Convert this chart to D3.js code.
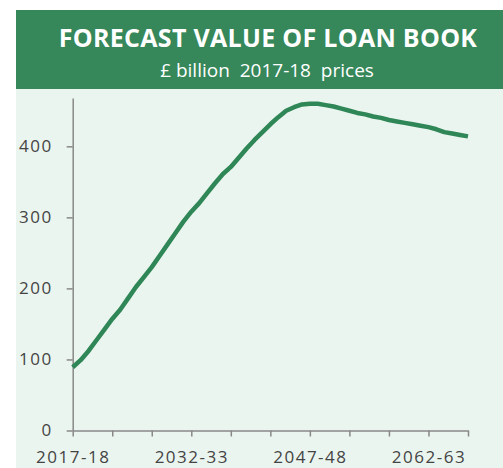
<!DOCTYPE html>
<html>
<head>
<meta charset="utf-8">
<script src="https://cdn.jsdelivr.net/npm/d3@7"></script>
<style>
  body { margin: 0; background: #fff; }
  svg text { font-family: "Open Sans", sans-serif; }
  .tick-label { fill: #444; font-size: 17px; letter-spacing: 1.5px; }
</style>
</head>
<body>
<svg id="chart" width="503" height="468"></svg>
<script>
// Forecast value of loan book, £ billion 2017-18 prices
const years = d3.range(2017, 2068).map(y => `${y}-${String((y + 1) % 100).padStart(2, '0')}`);
const loanBook = [
    89, 99, 112, 127, 142, 157, 170, 186, 202, 216,
    230, 246, 262, 278, 294, 308, 320, 334, 348, 361,
    371, 384, 397, 409, 420, 431, 441, 450, 455, 459,
    460, 460, 458, 456, 453, 450, 447, 445, 442, 440,
    437, 435, 433, 431, 429, 427, 424, 420, 418, 416,
    414
];
const yTicks = [0, 100, 200, 300, 400];
const xTickEvery = 5;    // small tick marks
const xLabelEvery = 15;  // labelled years

const svg = d3.select('#chart');

// header band + panel
svg.append('rect')
    .attr('x', 16).attr('y', 89).attr('width', 487).attr('height', 379)
    .attr('fill', '#ebf5ef');
svg.append('rect')
    .attr('x', 16).attr('y', 10).attr('width', 487).attr('height', 79)
    .attr('fill', '#36875a');

svg.append('text')
    .attr('x', 268).attr('y', 46.5)
    .attr('text-anchor', 'middle')
    .attr('fill', '#fff')
    .attr('font-size', 25)
    .attr('font-weight', 700)
    .attr('letter-spacing', 0.3)
    .text('FORECAST VALUE OF LOAN BOOK');
svg.append('text')
    .attr('x', 267).attr('y', 76.5)
    .attr('text-anchor', 'middle')
    .attr('fill', '#fff')
    .attr('font-size', 19)
    .attr('xml:space', 'preserve')
    .style('white-space', 'pre')
    .text('£ billion  2017-18  prices');

const x = d3.scaleLinear()
    .domain([0, years.length - 1])
    .range([72.7, 468]);
const y = d3.scaleLinear()
    .domain([0, 468])
    .range([430.5, 98]);

// y axis
const yAxis = svg.append('g')
    .attr('transform', `translate(${x(0)},0)`)
    .call(d3.axisLeft(y).tickValues(yTicks).tickSize(6).tickPadding(14).tickSizeOuter(0));
yAxis.select('.domain').attr('stroke', '#888').attr('stroke-width', 1.5);
yAxis.selectAll('.tick line').attr('stroke', '#888').attr('stroke-width', 1.5);
yAxis.selectAll('.tick text').attr('class', 'tick-label').attr('font-family', null);

// x axis
const xAxis = svg.append('g')
    .attr('transform', `translate(0,${y(0)})`)
    .call(d3.axisBottom(x)
        .tickValues(d3.range(0, years.length, xTickEvery))
        .tickSize(6).tickSizeOuter(0).tickPadding(14)
        .tickFormat(i => i % xLabelEvery === 0 ? years[i] : ''));
xAxis.select('.domain').attr('stroke', '#888').attr('stroke-width', 1.5);
xAxis.selectAll('.tick line').attr('stroke', '#888').attr('stroke-width', 1.5);
xAxis.selectAll('.tick text').attr('class', 'tick-label').attr('font-family', null);

// the line
const line = d3.line()
    .x((d, i) => x(i))
    .y(d => y(d));

svg.append('path')
    .datum(loanBook)
    .attr('d', line)
    .attr('fill', 'none')
    .attr('stroke', '#2f8656')
    .attr('stroke-width', 4.5)
    .attr('stroke-linejoin', 'round');
</script>
</body>
</html>
